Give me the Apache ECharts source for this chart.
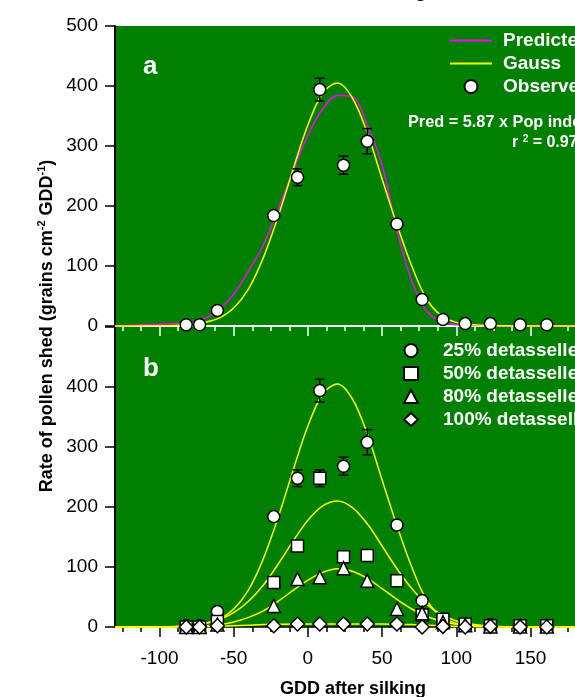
<!DOCTYPE html>
<html><head><meta charset="utf-8">
<script src="https://cdn.jsdelivr.net/npm/echarts@6/dist/echarts.min.js"></script>
<style>html,body{margin:0;padding:0;background:#fff}#c{width:575px;height:697px}</style>
</head><body><div id="c"></div>
<script>
// ---- data ----
const curveX = [-130,-120,-110,-100,-90,-80,-70,-60,-50,-40,-30,-20,-10,0,10,20,30,40,50,60,70,80,90,100,110,120,130,140,150,160,170,180];
const gaussA   = [0,0,0,0.3,0.8,2.5,6,13,30,62,114,183,261,335,388,405,380,322,245,169,100,45,17,6,2,1,0.5,0,0,0,0,0];
const predA    = [0.5,1,2,3,4,6,12,27,53,92,135,195,258,318,362,384,382,335,268,160,75,25,7,2,1,0.5,0,0,0,0,0,0];
const fit50    = [0,0,0,0,0.5,2.3,5.5,12,24,43,70,105,143,178,202,210,199,172,135,97,64,38,21,10,5,2,0.8,0,0,0,0,0];
const fit80    = [0,0,0,0,0.3,0.7,1.7,3.9,8.3,16,27,43,61,78,91,97,93,81,64,46,30,18,9.5,4.6,2,0.8,0.3,0,0,0,0,0];
const fit100   = [0,0,0,0,0,0,0.3,1,2,3,4,4.5,5,5,5,5,5,5,5,4.5,4,3,2,1,0.5,0.2,0,0,0,0,0,0];

const obsX     = [-82,-73,-61,-23,-7,8,24,40,60,77,91,106,123,143,161];
const obs25    = [2,2,26,184,248,394,268,308,170,44,11,4,4,2,2];
const err25    = [0,0,0,4,14,19,15,21,3,0,0,0,0,0,0];
const obs50    = [0,0,9,74,135,248,117,119,77,20,13,5,2,2,2];
const err50    = [0,0,0,0,0,14,0,0,0,0,0,0,0,0,0];
const obs80    = [0,0,4,35,80,83,98,77,30,23,8,3,1,1,1];
const obs100   = [0,0,2,2,5,5,5,5,5,0,1,0,1,0,0];

const xMajorTicks = [-100,-50,0,50,100,150];
const xMinorTicks = [-125,-112.5,-87.5,-75,-62.5,-37.5,-25,-12.5,12.5,25,37.5,62.5,75,87.5,112.5,125,137.5,162.5,175];

// ---- build ----
const F = 'Liberation Sans, Arial, sans-serif';
const pair = (xs, ys) => xs.map((x, i) => [x, ys[i]]);
const errData = (ys, es) => obsX.map((x, i) => [x, ys[i], es[i]]).filter(d => d[2] > 0);

function errSeries(xi, yi, data) {
  return {
    type: 'custom', xAxisIndex: xi, yAxisIndex: yi, z: 3, silent: true,
    data: data,
    renderItem: function (params, api) {
      const x = api.value(0), y = api.value(1), e = api.value(2);
      const t = api.coord([x, y + e]), b = api.coord([x, y - e]);
      const c = 5, st = { stroke: '#000', lineWidth: 1.5 };
      return { type: 'group', children: [
        { type: 'line', shape: { x1: t[0], y1: t[1], x2: b[0], y2: b[1] }, style: st },
        { type: 'line', shape: { x1: t[0] - c, y1: t[1], x2: t[0] + c, y2: t[1] }, style: st },
        { type: 'line', shape: { x1: b[0] - c, y1: b[1], x2: b[0] + c, y2: b[1] }, style: st }
      ]};
    }
  };
}
function line(name, xi, yi, ys, color) {
  return { name: name, type: 'line', xAxisIndex: xi, yAxisIndex: yi, data: pair(curveX, ys),
    symbol: 'none', smooth: 0.35, z: 2, silent: true,
    lineStyle: { color: color, width: 1.5 }, itemStyle: { color: color } };
}
function pts(name, xi, yi, ys, sym, size) {
  return { name: name, type: 'scatter', xAxisIndex: xi, yAxisIndex: yi, data: pair(obsX, ys),
    symbol: sym, symbolSize: size, z: 5, silent: true,
    itemStyle: { color: '#fff', borderColor: '#000', borderWidth: 1.5, opacity: 1 } };
}
function xAxes(gi) {
  const col = gi === 0 ? '#fff' : '#000';
  return [{
    type: 'value', gridIndex: gi, min: -130, max: 180, position: 'bottom',
    axisLine: { show: true, onZero: false, lineStyle: { color: col, width: gi === 0 ? 2 : 1.5 } },
    axisTick: { show: true, customValues: xMajorTicks, length: 10, lineStyle: { color: col, width: 1.5 } },
    axisLabel: { show: gi === 1, customValues: xMajorTicks, margin: 22, color: '#000', fontFamily: F, fontSize: 19 },
    splitLine: { show: false }
  }, {
    type: 'value', gridIndex: gi, min: -130, max: 180, position: 'bottom',
    axisLine: { show: false, onZero: false },
    axisTick: { show: true, customValues: xMinorTicks, length: 5, lineStyle: { color: col, width: 1.5 } },
    axisLabel: { show: false }, splitLine: { show: false }
  }];
}
function yAxis(gi) {
  return {
    type: 'value', gridIndex: gi, min: 0, max: 500, interval: 100, position: 'left',
    axisLine: { show: true, onZero: false, lineStyle: { color: '#000', width: 2 } },
    axisTick: { show: true, length: 10, lineStyle: { color: '#000', width: 1.5 } },
    axisLabel: { margin: 17, color: '#000', fontFamily: F, fontSize: 19,
      formatter: v => (gi === 1 && v === 500) ? '' : String(v) },
    splitLine: { show: false }
  };
}

const legendText = { color: '#fff', fontFamily: F, fontSize: 19, fontWeight: 'bold', lineHeight: 19 };
const hideSym = { opacity: 0 };

const option = {
  animation: false,
  backgroundColor: '#fff',
  grid: [
    { left: 115, top: 26, width: 478, height: 300, show: true, backgroundColor: '#008000', borderWidth: 0 },
    { left: 115, top: 327, width: 478, height: 300, show: true, backgroundColor: '#008000', borderWidth: 0 }
  ],
  xAxis: [].concat(xAxes(0), xAxes(1)),
  yAxis: [yAxis(0), yAxis(1)],
  legend: [
    { orient: 'vertical', left: 444, top: 26, itemWidth: 42, itemHeight: 13, itemGap: 4,
      data: [{ name: 'Predicted', itemStyle: hideSym }, { name: 'Gauss', itemStyle: hideSym }, 'Observed'],
      textStyle: Object.assign({ padding: [0, 0, 0, 6] }, legendText), selectedMode: false },
    { orient: 'vertical', left: 398, top: 336, itemWidth: 14, itemHeight: 13, itemGap: 4,
      data: ['25% detasselled', '50% detasselled', '80% detasselled', '100% detasselled'],
      textStyle: Object.assign({ padding: [0, 0, 0, 20] }, legendText), selectedMode: false }
  ],
  graphic: [
    { type: 'text', left: 143, top: 54, style: { text: 'a', fill: '#fff', font: 'bold 26px ' + F } },
    { type: 'text', left: 143, top: 356, style: { text: 'b', fill: '#fff', font: 'bold 26px ' + F } },
    { type: 'text', left: 408, top: 115, style: { text: 'Pred = 5.87 x Pop index', fill: '#fff', font: 'bold 16.3px ' + F } },
    { type: 'text', left: 512, top: 134, style: {
        text: '{n|r }{s|2}{n| = 0.97}', fill: '#fff',
        rich: { n: { fontFamily: F, fontWeight: 'bold', fontSize: 16, lineHeight: 18, color: '#fff' },
                s: { fontFamily: F, fontWeight: 'bold', fontSize: 10, lineHeight: 10, verticalAlign: 'top', color: '#fff' } } } },
    { type: 'text', x: 353, y: 1, style: { text: 'Pollen shedding', fill: '#000', font: 'bold 19px ' + F, align: 'center', verticalAlign: 'bottom' } },
    { type: 'text', x: 353, y: 689, style: { text: 'GDD after silking', fill: '#000', font: 'bold 18px ' + F, align: 'center', verticalAlign: 'middle' } },
    { type: 'text', x: 47, y: 326, rotation: Math.PI / 2, style: {
        text: '{n|Rate of pollen shed (grains cm}{s|-2}{n| GDD}{s|-1}{n|)}', align: 'center', verticalAlign: 'middle',
        rich: { n: { fontFamily: F, fontWeight: 'bold', fontSize: 18, lineHeight: 22, color: '#000' },
                s: { fontFamily: F, fontWeight: 'bold', fontSize: 11, lineHeight: 11, verticalAlign: 'top', color: '#000' } } } }
  ],
  series: [
    line('Predicted', 0, 0, predA, '#ff00ff'),
    line('Gauss', 0, 0, gaussA, '#ffff00'),
    errSeries(0, 0, errData(obs25, err25)),
    pts('Observed', 0, 0, obs25, 'circle', 12),

    line('fit25', 2, 1, gaussA, '#ffff00'),
    line('fit50', 2, 1, fit50, '#ffff00'),
    line('fit80', 2, 1, fit80, '#ffff00'),
    line('fit100', 2, 1, fit100, '#ffff00'),
    errSeries(2, 1, errData(obs25, err25)),
    errSeries(2, 1, errData(obs50, err50)),
    pts('25% detasselled', 2, 1, obs25, 'circle', 12),
    pts('50% detasselled', 2, 1, obs50, 'rect', 12),
    pts('80% detasselled', 2, 1, obs80, 'triangle', 13),
    pts('100% detasselled', 2, 1, obs100, 'diamond', 14)
  ]
};
echarts.init(document.getElementById('c'), null, { renderer: 'canvas' }).setOption(option);
</script></body></html>
